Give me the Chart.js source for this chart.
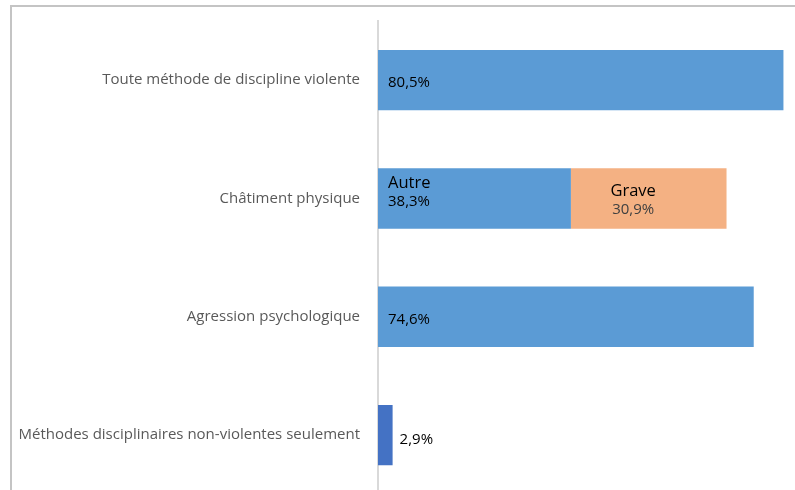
<!DOCTYPE html>
<html>
<head>
<meta charset="utf-8">
<script src="https://cdn.jsdelivr.net/npm/chart.js@4/dist/chart.umd.min.js"></script>
<style>
  html, body { margin: 0; padding: 0; background: #fff; }
  #wrap { position: relative; width: 795px; height: 490px; overflow: hidden; }
  #frame { position: absolute; left: 10px; top: 5px; right: -10px; bottom: -10px;
           border-top: 2px solid #c4c4c4; border-left: 2px solid #c4c4c4; }
  canvas { position: absolute; left: 0; top: 0; }
</style>
</head>
<body>
<div id="wrap">
  <div id="frame"></div>
  <!-- canvas runs a few px past the bottom edge, as the cropped original does -->
  <canvas id="chart" width="795" height="495"></canvas>
</div>
<script>
// categories and values (percent)
const categories = [
  'Toute méthode de discipline violente',
  'Châtiment physique',
  'Agression psychologique',
  'Méthodes disciplinaires non-violentes seulement'
]
const autreValues = [80.5, 38.3, 74.6, 2.9]
const graveValues = [null, 30.9, null, null]
const autreColors = ['#5b9bd5', '#5b9bd5', '#5b9bd5', '#4472c4']

const fmt = v => v.toFixed(1).replace('.', ',') + '%'

// draws the value labels from the bar elements
const barLabels = {
  id: 'barLabels',
  afterDatasetsDraw(chart) {
    const ctx = chart.ctx
    const m0 = chart.getDatasetMeta(0).data
    const m1 = chart.getDatasetMeta(1).data
    const valFont = '15px "Open Sans", sans-serif'
    const nameFont = '16.5px "Open Sans", sans-serif'
    ctx.save()
    ctx.textBaseline = 'middle'
    ctx.textAlign = 'left'
    ctx.fillStyle = '#000'
    m0.forEach((bar, i) => {
      const v = autreValues[i]
      if (v == null) return
      if (i === 1) {
        ctx.font = nameFont
        ctx.fillText('Autre', bar.base + 10, bar.y - 15)
        ctx.font = valFont
        ctx.fillText(fmt(v), bar.base + 10, bar.y + 3)
      } else if (bar.x - bar.base < 40) {
        ctx.font = valFont
        ctx.fillText(fmt(v), bar.x + 7, bar.y + 5)
      } else {
        ctx.font = valFont
        ctx.fillText(fmt(v), bar.base + 10, bar.y + 3)
      }
    })
    m1.forEach((bar, i) => {
      const v = graveValues[i]
      if (v == null) return
      const cx = bar.base + (bar.x - bar.base) * 0.4
      ctx.textAlign = 'center'
      ctx.fillStyle = '#000'
      ctx.font = nameFont
      ctx.fillText('Grave', cx, bar.y - 7)
      ctx.fillStyle = '#404040'
      ctx.font = valFont
      ctx.fillText(fmt(v), cx, bar.y + 11)
    })
    ctx.restore()
  }
}

new Chart(document.getElementById('chart'), {
  type: 'bar',
  data: {
    labels: categories,
    datasets: [{
      label: 'Autre',
      data: autreValues,
      backgroundColor: autreColors,
      categoryPercentage: 0.51,
      barPercentage: 1
    }, {
      label: 'Grave',
      data: graveValues,
      backgroundColor: '#f4b183',
      categoryPercentage: 0.51,
      barPercentage: 1
    }]
  },
  options: {
    indexAxis: 'y',
    responsive: false,
    animation: false,
    layout: { padding: { top: 21, right: 4, bottom: 0, left: 0 } },
    plugins: { legend: { display: false }, tooltip: { enabled: false } },
    scales: {
      x: { stacked: true, min: 0, max: 82, display: false },
      y: {
        stacked: true,
        afterFit: s => { s.width = 378 },
        // transparent grid; tick length gives the gap before the labels
        grid: { color: 'transparent', drawTicks: true, tickLength: 18 },
        border: { display: true, color: '#d9d9d9', width: 2 },
        ticks: {
          padding: 0,
          color: '#595959',
          font: { family: '"Open Sans", sans-serif', size: 15, lineHeight: 0.1 }
        }
      }
    }
  },
  plugins: [barLabels]
})
</script>
</body>
</html>
